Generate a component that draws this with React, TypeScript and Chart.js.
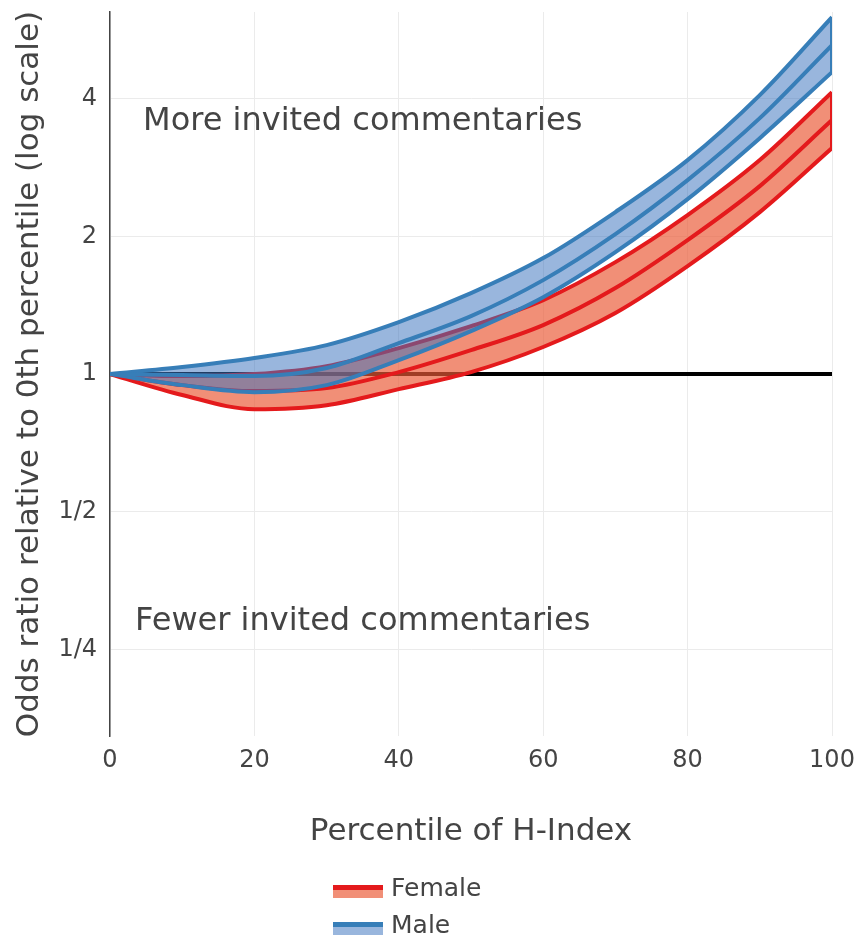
import React, { useEffect, useRef } from "react";
import { Chart, registerables } from "chart.js";

Chart.register(...registerables);

// ---- data ----
const percentiles = [0, 10, 20, 30, 40, 50, 60, 70, 80, 90, 100];
const femaleUpper = [1, 0.99, 1.0, 1.041, 1.14, 1.273, 1.451, 1.757, 2.227, 2.937, 4.134];
const femaleMid = [1, 0.946, 0.918, 0.932, 1.01, 1.128, 1.28, 1.542, 1.963, 2.576, 3.592];
const femaleLower = [1, 0.9, 0.838, 0.855, 0.927, 1.01, 1.146, 1.36, 1.722, 2.26, 3.12];
const maleUpper = [1, 1.036, 1.084, 1.157, 1.299, 1.503, 1.793, 2.261, 2.937, 4.073, 6.03];
const maleMid = [1, 0.995, 0.99, 1.031, 1.169, 1.339, 1.605, 2.023, 2.655, 3.628, 5.24];
const maleLower = [1, 0.946, 0.913, 0.946, 1.073, 1.242, 1.473, 1.848, 2.413, 3.28, 4.573];
const referenceX = [0, 100];
const referenceY = [1, 1];
const yTickValues = [0.25, 0.5, 1, 2, 4];
const yTickLabels = ["1/4", "1/2", "1", "2", "4"];
const xTickValues = [0, 20, 40, 60, 80, 100];
const seriesNames = ["Female", "Male"];
const annotationTexts = ["More invited commentaries", "Fewer invited commentaries"];
const annotationX = [35, 35];
const annotationY = [3.56, 0.287];
const yRange = [0.1617, 6.19];
const xRange = [0, 100];

const FONT = "'DejaVu Sans', Verdana, sans-serif";
const TEXT = "#444444";
const RED = "#e41a1c";
const RED_FILL = "rgba(235,90,55,0.68)";
const BLUE = "#377eb8";
const BLUE_FILL = "rgba(60,115,190,0.52)";

const pts = (ys: number[]) => percentiles.map((x, i) => ({ x, y: ys[i] }));
const lastIdx = percentiles.length - 1;

const annotationPlugin = {
  id: "textAnnotations",
  afterDraw(chart: any) {
    const { ctx, scales } = chart;
    ctx.save();
    ctx.fillStyle = TEXT;
    ctx.font = `32px ${FONT}`;
    ctx.textAlign = "center";
    ctx.textBaseline = "middle";
    annotationTexts.forEach((t, i) => {
      ctx.fillText(t, scales.x.getPixelForValue(annotationX[i]), scales.y.getPixelForValue(annotationY[i]));
    });
    ctx.restore();
  },
};

const legendPlugin = {
  id: "bandLegend",
  afterDraw(chart: any) {
    const { ctx } = chart;
    const items = [
      { name: seriesNames[0], line: RED, fill: RED_FILL, y: 885 },
      { name: seriesNames[1], line: BLUE, fill: BLUE_FILL, y: 922 },
    ];
    ctx.save();
    items.forEach((it) => {
      ctx.fillStyle = it.fill;
      ctx.fillRect(333, it.y + 4, 50, 9);
      ctx.fillStyle = it.line;
      ctx.fillRect(333, it.y, 50, 5);
      ctx.fillStyle = TEXT;
      ctx.font = `25px ${FONT}`;
      ctx.textAlign = "left";
      ctx.textBaseline = "middle";
      ctx.fillText(it.name, 391, it.y + 4);
    });
    ctx.restore();
  },
};

export default function App() {
  const ref = useRef<HTMLCanvasElement | null>(null);

  useEffect(() => {
    if (!ref.current) return;
    const lineBase = { pointRadius: 0, borderWidth: 4, fill: false, cubicInterpolationMode: "monotone" };
    const bandBase = { pointRadius: 0, borderWidth: 0, cubicInterpolationMode: "monotone" };
    const datasets: any[] = [
      {
        label: "reference",
        data: referenceX.map((x, i) => ({ x, y: referenceY[i] })),
        borderColor: "#000000",
        ...lineBase,
      },
      // Female band
      { label: "fLowBase", data: pts(femaleLower), ...bandBase, fill: false, borderColor: "transparent" },
      { label: "fBand", data: pts(femaleUpper), ...bandBase, fill: "-1", backgroundColor: RED_FILL, borderColor: "transparent" },
      { label: "fLower", data: pts(femaleLower), borderColor: RED, ...lineBase },
      { label: "fUpper", data: pts(femaleUpper), borderColor: RED, ...lineBase },
      {
        label: "fCap",
        data: [
          { x: percentiles[lastIdx], y: femaleLower[lastIdx] },
          { x: percentiles[lastIdx], y: femaleUpper[lastIdx] },
        ],
        borderColor: RED,
        ...lineBase,
      },
      { label: "fMid", data: pts(femaleMid), borderColor: RED, ...lineBase },
      // Male band
      { label: "mLowBase", data: pts(maleLower), ...bandBase, fill: false, borderColor: "transparent" },
      { label: "mBand", data: pts(maleUpper), ...bandBase, fill: "-1", backgroundColor: BLUE_FILL, borderColor: "transparent" },
      { label: "mLower", data: pts(maleLower), borderColor: BLUE, ...lineBase },
      { label: "mUpper", data: pts(maleUpper), borderColor: BLUE, ...lineBase },
      {
        label: "mCap",
        data: [
          { x: percentiles[lastIdx], y: maleLower[lastIdx] },
          { x: percentiles[lastIdx], y: maleUpper[lastIdx] },
        ],
        borderColor: BLUE,
        ...lineBase,
      },
      { label: "mMid", data: pts(maleMid), borderColor: BLUE, ...lineBase },
    ];
    // draw in listed order: first = back
    datasets.forEach((d, i) => (d.order = datasets.length - i));

    const chart = new Chart(ref.current, {
      type: "line",
      data: { datasets },
      plugins: [annotationPlugin, legendPlugin],
      options: {
        animation: false,
        responsive: false,
        maintainAspectRatio: false,
        layout: { padding: { left: 0, right: 27, top: 12, bottom: 88 } },
        plugins: { legend: { display: false }, tooltip: { enabled: false } },
        scales: {
          x: {
            type: "linear",
            min: xRange[0],
            max: xRange[1],
            afterBuildTicks: (s: any) => {
              s.ticks = xTickValues.map((v) => ({ value: v }));
            },
            afterFit: (s: any) => {
              s.height = 115;
              s.paddingLeft = 0;
              s.paddingRight = 0;
            },
            grid: { color: "#ebebeb", lineWidth: 1, drawTicks: false },
            border: { display: false },
            ticks: { padding: 10, color: TEXT, font: { family: FONT, size: 24 }, maxRotation: 0 },
            title: {
              display: true,
              text: "Percentile of H-Index",
              color: TEXT,
              font: { family: FONT, size: 31 },
              padding: 0,
            },
          },
          y: {
            type: "logarithmic",
            min: yRange[0],
            max: yRange[1],
            afterBuildTicks: (s: any) => {
              s.ticks = yTickValues.map((v) => ({ value: v }));
            },
            afterFit: (s: any) => {
              s.width = 110;
              s.paddingTop = 0;
              s.paddingBottom = 0;
            },
            grid: { color: "#ebebeb", lineWidth: 1, drawTicks: false },
            border: { display: true, color: "#444444", width: 1.5 },
            ticks: {
              padding: 13,
              color: TEXT,
              font: { family: FONT, size: 24 },
              callback: (v: any) => {
                const i = yTickValues.indexOf(Number(v));
                return i >= 0 ? yTickLabels[i] : "";
              },
            },
            title: {
              display: true,
              text: "Odds ratio relative to 0th percentile (log scale)",
              color: TEXT,
              font: { family: FONT, size: 31 },
              padding: { top: 11, bottom: 0 },
            },
          },
        },
      } as any,
    });
    return () => chart.destroy();
  }, []);

  return (
    <div style={{ position: "absolute", left: 0, top: 0, width: 859, height: 939, background: "#fff" }}>
      <canvas ref={ref} width={859} height={939} />
    </div>
  );
}
